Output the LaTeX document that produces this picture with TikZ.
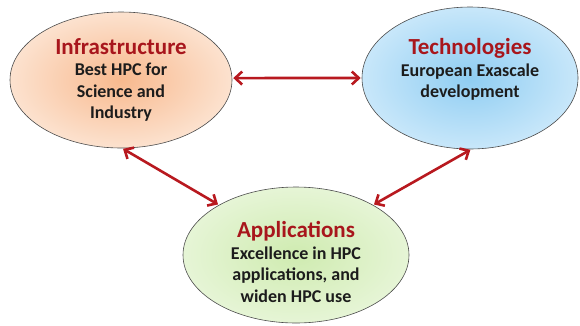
\documentclass[tikz,border=0pt]{standalone}
\usepackage{fontspec}
\setmainfont{Carlito}
\usetikzlibrary{shapes.geometric, arrows.meta}

\definecolor{titlered}{HTML}{A8161C}
\definecolor{linkred}{HTML}{B8191F}
\definecolor{bodyink}{HTML}{1C1C1C}
\definecolor{infraIn}{HTML}{F8B98E}
\definecolor{infraOut}{HTML}{FCE2CF}
\definecolor{techIn}{HTML}{8FCDF2}
\definecolor{techOut}{HTML}{C8E7FA}
\definecolor{appIn}{HTML}{CFEBB0}
\definecolor{appOut}{HTML}{E6F5D6}

\tikzset{
	hub/.style 2 args={ellipse, draw=black!70, line width=0.6pt, inner sep=0pt,
		shading=radial, inner color=#1, outer color=#2,
		align=center, font=\bfseries\fontsize{18}{21.5}\selectfont, text=bodyink},
	link/.style={draw=linkred, line width=2.6pt, {Straight Barb[length=7pt,width=13pt]}-{Straight Barb[length=7pt,width=13pt]}, shorten <=1pt, shorten >=1pt},
}
\newcommand{\hubtitle}[1]{{\color{titlered}\fontsize{23}{26}\selectfont #1}}

\begin{document}
\begin{tikzpicture}[x=1pt, y=-1pt]
	\useasboundingbox (0,0) rectangle (580,325);

	\node[hub={infraIn}{infraOut}, minimum width=222pt, minimum height=136pt]
		(infra) at (121,80) {\hubtitle{Infrastructure}\\Best HPC for\\Science and\\Industry};
	\node[hub={techIn}{techOut}, minimum width=216pt, minimum height=142pt]
		(tech) at (470,78) {\hubtitle{Technologies}\\European Exascale\\development\\[-2pt]};
	\node[hub={appIn}{appOut}, minimum width=226pt, minimum height=136pt]
		(app) at (296,255) {\hubtitle{\rule{0pt}{30pt}Applications}\\Excellence in HPC\\applications, and\\widen HPC use};

	% links between the three pillars
	\draw[link] (infra.1) -- (tech.180);
	\draw[link] (infra.-89) -- (app.147);
	\draw[link] (tech.-89) -- (app.33);
\end{tikzpicture}
\end{document}
